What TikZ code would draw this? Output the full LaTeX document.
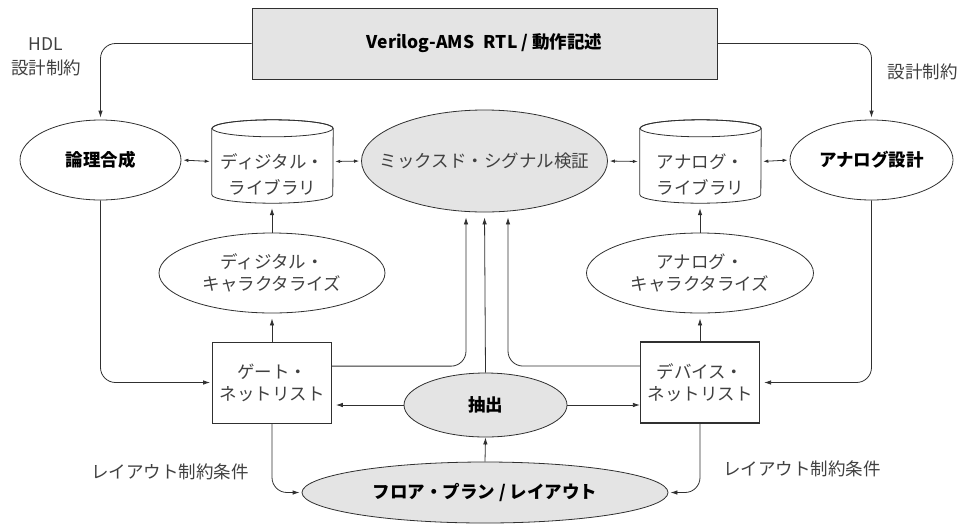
\documentclass[tikz,border=0pt]{standalone}
\usepackage{fontspec}
\setmainfont{Noto Sans CJK JP}
\usetikzlibrary{arrows.meta,shapes.geometric,calc}
\definecolor{ln}{HTML}{303030}
\definecolor{tx}{HTML}{404040}
\definecolor{fl}{HTML}{E4E4E4}
\begin{document}
\begin{tikzpicture}[x=1pt,y=-1pt,
  font=\fontsize{17.5}{22}\selectfont,
  ell/.style={ellipse, draw=ln, line width=0.8pt, inner sep=0pt},
  lbl/.style={text=tx, align=center, font=\fontsize{17.5}{22}\selectfont},
  bld/.style={text=black, align=center, font=\fontsize{17.5}{22}\selectfont\bfseries},
  boxn/.style={rectangle, draw=ln, line width=0.8pt, inner sep=0pt, fill=white},
  cylbox/.style={rectangle, inner sep=0pt, minimum width=121pt, minimum height=83pt},
  arr/.style={draw=ln, line width=0.8pt, -{Latex[length=7pt,width=4.5pt]}},
  dbl/.style={draw=ln, line width=0.8pt, {Latex[length=5pt,width=3.5pt]}-{Latex[length=5pt,width=3.5pt]}, shorten <=2pt, shorten >=2pt},
  cylline/.style={draw=ln, line width=0.8pt}
]
\useasboundingbox (0,0) rectangle (963,523);

% top box
\node[boxn, fill=fl, minimum width=465pt, minimum height=71pt] (top) at (484.5,43.5)
  {\bfseries Verilog-AMS\hspace{0.55em}RTL / 動作記述};

% ellipses
\node[ell, minimum width=161pt, minimum height=80pt, label={[bld]center:論理合成}] (logic) at (100.5,160) {};
\node[ell, minimum width=163pt, minimum height=80pt, label={[bld]center:アナログ設計}] (ades) at (871.5,160) {};
\node[ell, fill=fl, minimum width=246pt, minimum height=102pt, label={[lbl]center:ミックスド・シグナル検証}] (mix) at (484.5,161) {};
\node[ell, minimum width=226pt, minimum height=80pt, label={[lbl]center:ディジタル・\\キャラクタライズ}] (dchar) at (272,273) {};
\node[ell, minimum width=227pt, minimum height=80pt, label={[lbl]center:アナログ・\\キャラクタライズ}] (achar) at (700,273) {};
\node[ell, fill=fl, minimum width=163pt, minimum height=64pt, label={[bld]center:抽出}] (ext) at (485.5,405) {};
\node[ell, fill=fl, minimum width=366pt, minimum height=61pt, label={[bld]center:フロア・プラン / レイアウト}] (floor) at (485,492.5) {};

% netlist boxes
\node[boxn, minimum width=119pt, minimum height=81pt, align=center, text=tx] (gate) at (272,382.5) {ゲート・\\ネットリスト};
\node[boxn, line width=1.2pt, minimum width=119pt, minimum height=81pt, align=center, text=tx] (dev) at (700,382.5) {デバイス・\\ネットリスト};

% cylinders
\node[cylbox] (dlib) at (272.5,161.5) {};
\node[cylbox] (alib) at (700.5,161.5) {};
\foreach \c in {dlib,alib}{
  \filldraw[cylline, fill=white] ($(\c.north west)+(0,8.5)$) -- ($(\c.south west)+(0,-8.5)$)
     arc[start angle=180,end angle=360,x radius=60.5pt,y radius=8.5pt]
     -- ($(\c.north east)+(0,8.5)$)
     arc[start angle=0,end angle=180,x radius=60.5pt,y radius=8.5pt] -- cycle;
  \draw[cylline] ($(\c.north)+(0,8.5)$) ellipse[x radius=60.5pt, y radius=8.5pt];
}
\node[lbl] (dlibt) at (272.5,174.5) {ディジタル・\\[4pt]ライブラリ};
\node[lbl] (alibt) at (700.5,174.5) {アナログ・\\[4pt]ライブラリ};

% free labels
\node[lbl] (hdl) at (46,44) {HDL};
\node[lbl] (dc1) at (46,68) {設計制約};
\node[lbl] (dc2) at (922.5,72) {設計制約};
\node[lbl] (lc1) at (170,471.5) {レイアウト制約条件};
\node[lbl] (lc2) at (802,468.5) {レイアウト制約条件};

% connectors from top
\draw[arr, rounded corners=15pt, shorten >=2pt] (top.west) -| (logic.north);
\draw[arr, rounded corners=15pt, shorten >=2pt] (top.east) -| (ades.north);

% double arrows
\draw[dbl] (logic.east) -- (dlib.west);
\draw[dbl] (dlib.east) -- (mix.west);
\draw[dbl] (mix.east) -- (alib.west);
\draw[dbl] (alib.east) -- (ades.west);

% characterize arrows
\draw[arr, shorten >=5pt] (dchar.north) -- (dchar.north |- dlib.south);
\draw[arr, shorten >=5pt] (gate.north) -- (gate.north |- dchar.south);
\draw[arr, shorten >=5pt] (achar.north) -- (achar.north |- alib.south);
\draw[arr, shorten >=5pt] (dev.north) -- (dev.north |- achar.south);

% design to netlists
\draw[arr, rounded corners=15pt, shorten >=2pt] (logic.south) |- (gate.west);
\draw[arr, rounded corners=15pt, shorten >=4pt] (ades.south) |- (dev.east);

% to mixed-signal
\coordinate (gtap) at ($(gate.north east)!0.3!(gate.south east)$);
\coordinate (dtap) at ($(dev.north west)!0.3!(dev.south west)$);
\draw[arr, rounded corners=15pt, shorten >=5pt] (gtap) -| ([xshift=-18.5pt]mix.south);
\draw[arr, shorten >=5pt] (ext.north) -- (mix.south);
\draw[arr, rounded corners=15pt, shorten >=5pt] (dtap) -| ([xshift=23.5pt]mix.south);

% extraction
\draw[arr, shorten >=4pt] (ext.west) -- (ext.west -| gate.east);
\draw[arr] (ext.east) -- (ext.east -| dev.west);
\draw[arr] (floor.north) -- (ext.south);

% netlists to floorplan
\draw[arr, rounded corners=15pt, shorten >=2pt] (gate.south) |- (floor.west);
\draw[arr, rounded corners=15pt, shorten >=2pt] (dev.south) |- (floor.east);
\end{tikzpicture}
\end{document}
